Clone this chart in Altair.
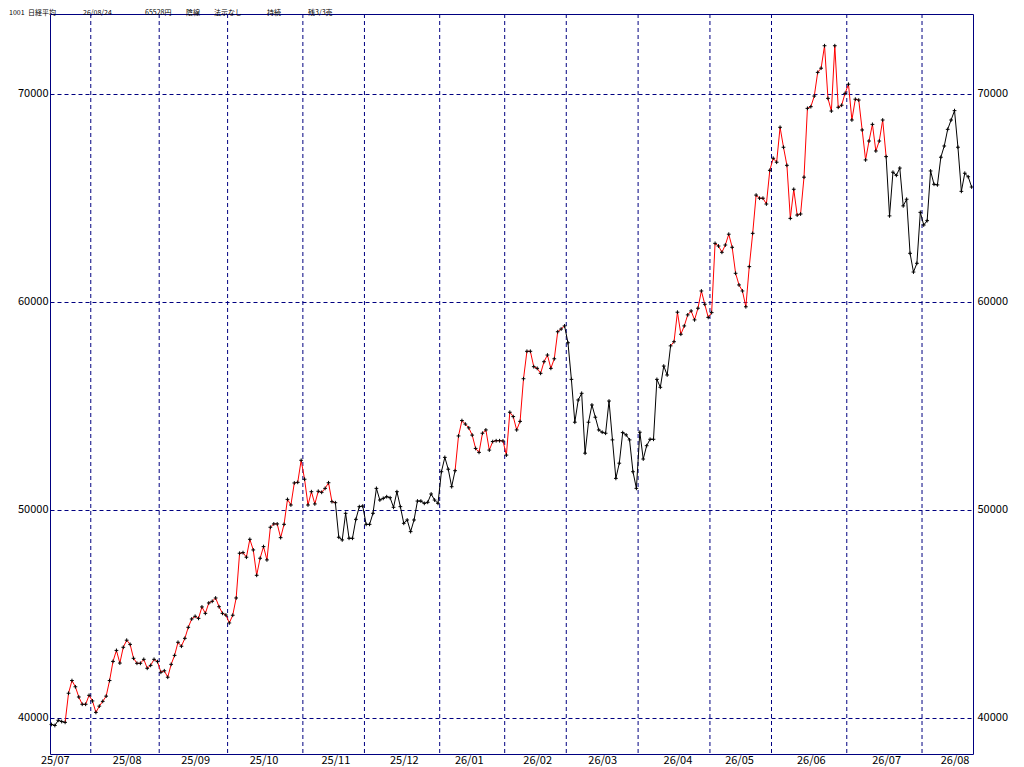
import altair as alt
import pandas as pd

# ---------------- data ----------------
header_parts = ["1001", "日経平均", "26/08/24", "65528円", "陰線", "法示なし", "持続", "残3/3売"]

month_labels = ["25/07", "25/08", "25/09", "25/10", "25/11", "25/12", "26/01",
                "26/02", "26/03", "26/04", "26/05", "26/06", "26/07", "26/08"]

jul25 = [39690, 39640, 39890, 39830, 39790, 41190, 41800, 41500, 41010, 40660, 40660, 41090]
aug25 = [40820, 40270, 40570, 40800, 41050, 41800, 42720, 43250, 42640, 43400, 43740, 43540,
         42870, 42630, 42630, 42820, 42390, 42530, 42820, 42710]
sep25 = [42200, 42270, 41960, 42580, 43010, 43640, 43450, 43830, 44360, 44760, 44890, 44790,
         45340, 45030, 45530, 45610, 45770, 45350, 45030, 44950]
oct25 = [44570, 44940, 45770, 47920, 47950, 47730, 48590, 48080, 46860, 47680, 48240, 47600,
         49170, 49330, 49330, 48670, 49310, 50510, 50240, 51300, 51330, 52390]
nov25 = [51480, 50240, 50880, 50290, 50900, 50850, 51040, 51310, 50400, 50350, 48690, 48560,
         49840, 48640, 48640, 49550, 50160, 50190]
dec25 = [49310, 49310, 49840, 51040, 50480, 50560, 50640, 50590, 50130, 50880, 50160, 49360,
         49520, 48960, 49520, 50430, 50430, 50320, 50370, 50770, 50480, 50320]
jan26 = [51840, 52530, 51960, 51120, 51890, 53560, 54300, 54130, 53950, 53600, 52960, 52770,
         53690, 53850, 52880, 53290, 53330, 53330, 53320]
feb26 = [52640, 54700, 54490, 53850, 54260, 56310, 57630, 57630, 56890, 56810, 56570, 57130,
         57450, 56810, 57270, 58570, 58700, 58850]
mar26 = [58040, 56280, 54220, 55290, 55610, 52730, 54220, 55050, 54460, 53850, 53740, 53690,
         55240, 53370, 51520, 52250, 53720, 53610, 53370, 51840, 51040]
apr26 = [53740, 52450, 53090, 53400, 53400, 56280, 55900, 56920, 56490, 57890, 58090, 59510,
         58450, 58850, 59380, 59570, 59140, 59700, 60530, 59890, 59260]
may26 = [59490, 62820, 62690, 62390, 62740, 63260, 62630, 61380, 60820, 60530, 59770, 61700,
         63300, 65140, 64990, 64990, 64710, 66330]
jun26 = [66910, 66720, 68400, 67440, 66570, 64020, 65420, 64180, 64230, 66000, 69310, 69390,
         69900, 71040, 71240, 72320, 69790, 69180, 72320, 69360, 69460, 70030]
jul26 = [70470, 68750, 69750, 69710, 68270, 66830, 67740, 68540, 67260, 67740, 68750, 66990,
         64140, 66240, 66090, 66440, 64620, 64940, 62340, 61440, 61860, 64310]
aug26 = [63700, 63910, 66300, 65660, 65630, 66960, 67500, 68300, 68750, 69200, 67440, 65320,
         66190, 66020, 65528]

months = [jul25, aug25, sep25, oct25, nov25, dec25, jan26, feb26, mar26, apr26, may26,
          jun26, jul26, aug26]

# trading-day index where each month label sits
label_days = [1, 22, 42, 62, 83, 103, 122, 142, 161, 183, 201, 222, 244, 264]
# trend state runs: first trading-day index of each run and its state
state_start_days = [0, 5, 84, 119, 151, 182, 245]
state_names = ["弱", "強", "弱", "強", "弱", "強", "弱"]
y_ticks = [40000, 50000, 60000, 70000]

# ---------------- build tables ----------------
closes = [v for m in months for v in m]
n = len(closes)
month_starts = []
acc = 0
for m in months:
    month_starts.append(acc)
    acc += len(m)

state = []
for i in range(n):
    s = state_names[0]
    for d, nm in zip(state_start_days, state_names):
        if i >= d:
            s = nm
    state.append(s)

pts = pd.DataFrame({"day": list(range(n)), "close": closes})
segs = pd.DataFrame({
    "d0": list(range(n - 1)),
    "d1": list(range(1, n)),
    "c0": closes[:-1],
    "c1": closes[1:],
    "state": state[1:],
})
grid_df = pd.DataFrame({"start": month_starts[1:]})

NAVY = "#000080"
FONT = "Noto Sans CJK JP"

xscale = alt.Scale(domain=[-0.42, 269.4], nice=False, zero=False)
yscale = alt.Scale(domain=[38269, 73846], nice=False, zero=False)

label_expr = "[" + ",".join("'%s'" % s for s in month_labels) + "][indexof([" + \
    ",".join(str(d) for d in label_days) + "], datum.value)]"

x_axis = alt.Axis(values=label_days, labelExpr=label_expr, ticks=False, domain=False,
                  grid=False, labelPadding=0, labelFont=FONT, labelFontSize=11,
                  labelColor="black", labelAlign="center", labelBaseline="top",
                  labelFlush=False, labelOverlap=False, title=None)

vgrid = alt.Chart(grid_df).transform_calculate(pos="datum.start - 0.5").mark_rule(
    color=NAVY, strokeWidth=1, strokeDash=[4, 3]
).encode(x=alt.X("pos:Q", scale=xscale, axis=x_axis))

seg_layer = alt.Chart(segs).mark_rule(strokeWidth=1).encode(
    x=alt.X("d0:Q", scale=xscale, axis=x_axis),
    x2="d1:Q",
    y=alt.Y("c0:Q", scale=yscale,
            axis=alt.Axis(values=y_ticks, grid=True, gridColor=NAVY, gridDash=[4, 3],
                          gridWidth=1, ticks=False, domain=False, labelPadding=2,
                          labelFont=FONT, labelFontSize=11, labelColor="black",
                          format="d", title=None)),
    y2="c1:Q",
    color=alt.Color("state:N", scale=alt.Scale(domain=["強", "弱"], range=["#ff0000", "#000000"]),
                    legend=None),
)

pt_layer = alt.Chart(pts).mark_point(
    shape="M-1,0H1M0,-1V1", size=14, filled=False, stroke="black", strokeWidth=1, opacity=1
).encode(
    x=alt.X("day:Q", scale=xscale, axis=x_axis),
    y=alt.Y("close:Q", scale=yscale,
            axis=alt.Axis(orient="right", values=y_ticks, grid=False, ticks=False, domain=False,
                          labelPadding=4, labelFont=FONT, labelFontSize=11, labelColor="black",
                          format="d", title=None)),
)

# header pieces, placed along the top edge (shrunk to fit inside the page)
header_x = [-41, -22, 33, 95, 136, 164, 217, 258]
header_layers = []
for txt, hx in zip(header_parts, header_x):
    header_layers.append(
        alt.Chart(pd.DataFrame({"t": [txt]})).mark_text(
            align="left", baseline="top", font=FONT, fontSize=7, color="black"
        ).encode(text="t:N", x=alt.value(hx), y=alt.value(-5))
    )

chart = alt.layer(vgrid, seg_layer, pt_layer, *header_layers).resolve_axis(
    y="independent"
).resolve_scale(y="shared").properties(
    width=923, height=740,
    autosize=alt.AutoSizeParams(type="none"),
    padding={"left": 42, "top": 6, "right": 43, "bottom": 12},
    background="white",
).configure_view(stroke=NAVY, strokeWidth=1)

chart.save("out.html", embed_options={"renderer": "svg", "actions": False})
